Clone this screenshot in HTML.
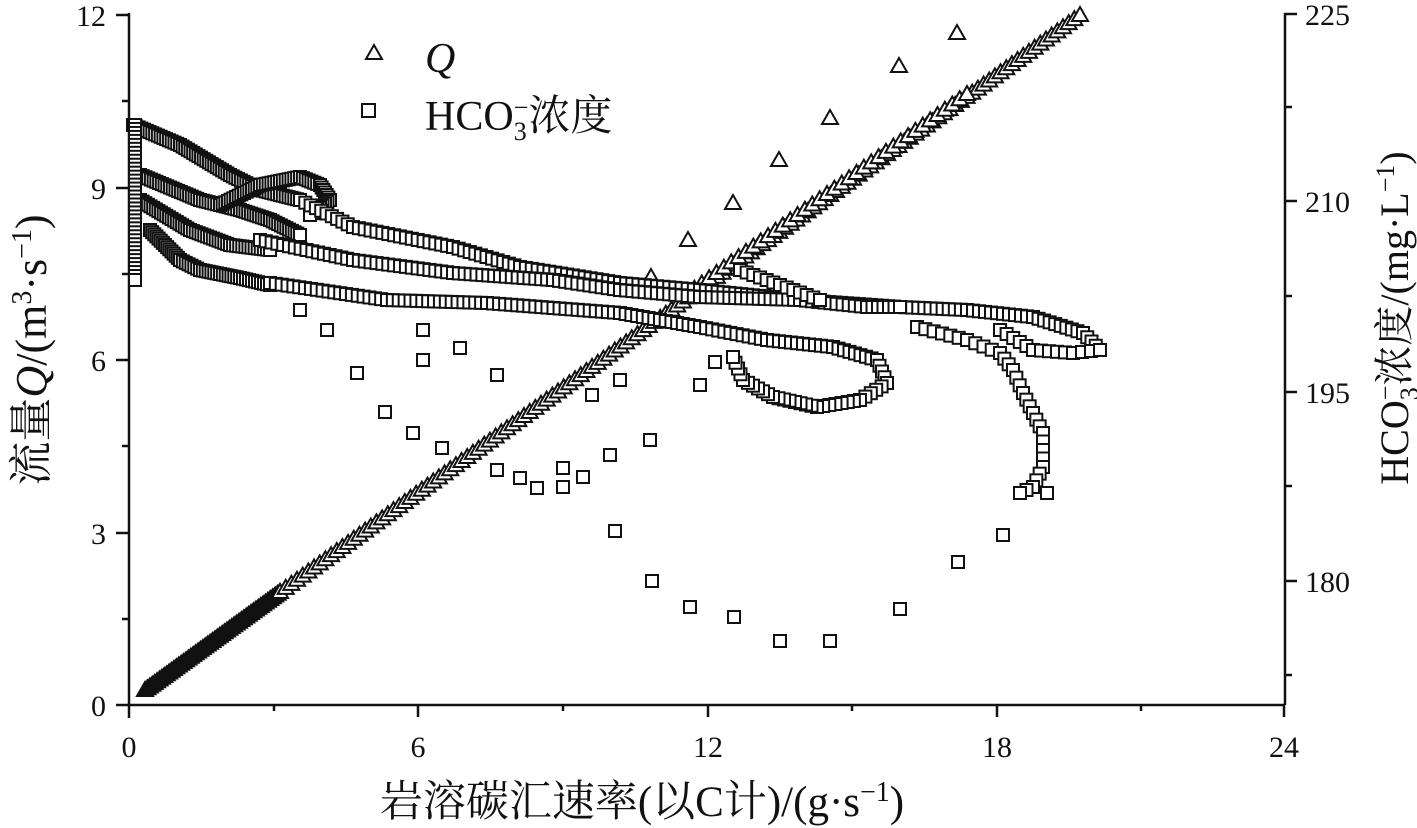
<!DOCTYPE html>
<html><head><meta charset="utf-8"><style>
html,body{margin:0;padding:0;background:#fff;}
svg{display:block;}
text{font-family:"Liberation Serif","Noto Serif CJK SC",serif;fill:#111;}
</style></head><body>
<svg id="s" width="1417" height="828" viewBox="0 0 1417 828" xmlns="http://www.w3.org/2000/svg">
<g stroke="#111" stroke-width="2.5" fill="none">
<line x1="129" y1="13" x2="129" y2="718"/>
<line x1="116" y1="705" x2="1285" y2="705"/>
<line x1="1285" y1="13" x2="1285" y2="705"/>
<line x1="1285" y1="14" x2="1297" y2="14"/>
<line x1="1285" y1="201" x2="1297" y2="201"/>
<line x1="1285" y1="392" x2="1297" y2="392"/>
<line x1="1285" y1="581" x2="1297" y2="581"/>
<line x1="1285" y1="107" x2="1292" y2="107"/>
<line x1="1285" y1="296" x2="1292" y2="296"/>
<line x1="1285" y1="486" x2="1292" y2="486"/>
<line x1="1285" y1="675" x2="1292" y2="675"/>
<line x1="116" y1="15" x2="129" y2="15"/>
<line x1="116" y1="188" x2="129" y2="188"/>
<line x1="116" y1="360" x2="129" y2="360"/>
<line x1="116" y1="533" x2="129" y2="533"/>
<line x1="122" y1="101" x2="129" y2="101"/>
<line x1="122" y1="274" x2="129" y2="274"/>
<line x1="122" y1="446" x2="129" y2="446"/>
<line x1="122" y1="619" x2="129" y2="619"/>
<line x1="418" y1="705" x2="418" y2="717"/>
<line x1="708" y1="705" x2="708" y2="717"/>
<line x1="997" y1="705" x2="997" y2="717"/>
<line x1="1284" y1="705" x2="1284" y2="717"/>
<line x1="274" y1="705" x2="274" y2="711"/>
<line x1="563" y1="705" x2="563" y2="711"/>
<line x1="852" y1="705" x2="852" y2="711"/>
<line x1="1141" y1="705" x2="1141" y2="711"/>
</g>
<g font-size="30" text-anchor="end">
<text x="106" y="716">0</text><text x="106" y="544">3</text><text x="106" y="371">6</text><text x="106" y="199">9</text><text x="106" y="26">12</text>
</g>
<g font-size="30" text-anchor="middle">
<text x="129" y="757">0</text><text x="418" y="757">6</text><text x="708" y="757">12</text><text x="997" y="757">18</text><text x="1284" y="757">24</text>
</g>
<g font-size="30" text-anchor="start">
<text x="1305" y="25">225</text><text x="1305" y="212">210</text><text x="1305" y="403">195</text><text x="1305" y="592">180</text>
</g>
<text x="642" y="816" font-size="43" text-anchor="middle">岩溶碳汇速率(以C计)/(g·s<tspan font-size="28" dy="-15">−1</tspan><tspan dy="15">)</tspan></text>
<text transform="translate(46,350) rotate(-90)" font-size="44" text-anchor="middle">流量<tspan font-style="italic">Q</tspan>/(m<tspan font-size="28" dy="-15">3</tspan><tspan dy="15">·s</tspan><tspan font-size="28" dy="-15">−1</tspan><tspan dy="15">)</tspan></text>
<text transform="translate(1408,318) rotate(-90)" font-size="40" text-anchor="middle">HCO<tspan font-size="26" dy="10">3</tspan><tspan font-size="26" dy="-24" dx="-13">−</tspan><tspan dy="14">浓度/(mg·L</tspan><tspan font-size="26" dy="-14">−1</tspan><tspan dy="14">)</tspan></text>
<polygon points="374,45 366,59 382,59" fill="none" stroke="#111" stroke-width="2"/>
<text x="425" y="72" font-size="42" font-style="italic">Q</text>
<rect x="362" y="104" width="13" height="13" fill="none" stroke="#111" stroke-width="2"/>
<text x="425" y="130" font-size="42">HCO<tspan font-size="26" dy="10">3</tspan><tspan font-size="26" dy="-24" dx="-13">−</tspan><tspan dy="14">浓度</tspan></text>
<g id="m" fill="#fff" stroke="#111" stroke-width="2"></g>
</svg>
<script>
var g=document.getElementById('m'),ns='http://www.w3.org/2000/svg';
function sq(x,y){var r=document.createElementNS(ns,'rect');r.setAttribute('x',x-6);r.setAttribute('y',y-6);r.setAttribute('width',12);r.setAttribute('height',12);g.appendChild(r);}
function tri(x,y){var p=document.createElementNS(ns,'polygon');p.setAttribute('points',(x)+','+(y-8)+' '+(x-8)+','+(y+6)+' '+(x+8)+','+(y+6));g.appendChild(p);}
function path(pts,step,f){for(var i=0;i<pts.length-1;i++){var a=pts[i],b=pts[i+1],d=Math.hypot(b[0]-a[0],b[1]-a[1]),n=Math.max(1,Math.round(d/step));for(var k=0;k<n;k++){var t=k/n;f(a[0]+(b[0]-a[0])*t,a[1]+(b[1]-a[1])*t);}}f(pts[pts.length-1][0],pts[pts.length-1][1]);}
// triangles main line
path([[145,690],[280,592]],3,tri);
path([[280,592],[1080,15]],7,tri);
path([[680,285],[960,85]],9,function(x,y){tri(x+7,y+9);});
[[688,240],[733,203],[779,160],[830,118],[899,66],[957,33],[651,277],[640,290]].forEach(function(p){tri(p[0],p[1]);});
// top-left dense clusters
path([[133,125],[180,145],[230,175],[260,190],[300,200]],3,sq);
path([[140,175],[200,200],[240,210],[270,220],[300,235]],3,sq);
path([[220,205],[260,185],[300,177],[320,185],[330,200],[310,215]],3,sq);
path([[140,200],[190,230],[230,245],[270,250]],3,sq);
path([[150,230],[180,260],[200,270],[240,278],[270,285]],3,sq);
path([[135,125],[135,280]],4,sq);
// bands
path([[300,200],[353,227],[453,247],[520,267],[620,283],[700,290],[800,300],[900,307],[967,310],[1033,317],[1083,333],[1100,350]],6,sq);
path([[260,240],[353,260],[453,273],[553,280],[620,290],[700,297],[800,300],[867,307],[900,307]],6,sq);
path([[270,283],[387,300],[487,303],[620,313],[700,327],[767,340],[833,347],[877,360],[887,383],[860,400],[817,407],[773,397],[743,380],[733,357]],6,sq);
path([[917,327],[967,340],[1000,353],[1013,370],[1023,393],[1043,433],[1043,467],[1033,487],[1020,493]],8,sq);
path([[1000,330],[1033,350],[1073,353],[1100,350]],8,sq);
path([[740,270],[780,285],[820,300]],7,sq);
[[300,310],[327,330],[357,373],[385,412],[413,433],[442,448],[497,470],[520,478],[537,488],[563,487],[563,468],[583,477],[610,455],[592,395],[497,375],[460,348],[423,330],[423,360],[615,531],[652,581],[690,607],[734,617],[780,641],[830,641],[900,609],[958,562],[1003,535],[1047,493],[715,362],[700,385],[620,380],[650,440]].forEach(function(p){sq(p[0],p[1]);});
</script>
</body></html>
